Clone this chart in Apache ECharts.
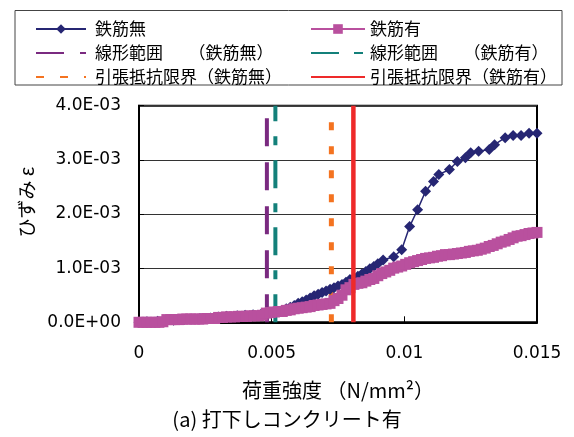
<!DOCTYPE html>
<html><head><meta charset="utf-8">
<script src="https://cdn.jsdelivr.net/npm/echarts@6/dist/echarts.min.js"></script>
<style>html,body{margin:0;padding:0;background:#fff}#c{width:574px;height:437px}</style>
</head><body><div id="c"></div>
<script>
// 荷重強度 (N/mm2) and ひずみ (×10^-3) for 鉄筋無
const loadNone = [0,0.0003,0.0007,0.001,0.0013,0.0017,0.002,0.0023,0.0027,0.003,
  0.0033,0.0037,0.004,0.0043,0.0046,0.0048,0.0051,0.0054,0.00555,0.0057,
  0.00585,0.006,0.00615,0.0063,0.00645,0.0066,0.00675,0.0069,0.00705,0.0072,
  0.00735,0.0075,0.00765,0.0078,0.00795,0.0081,0.00825,0.0084,0.00855,0.0087,
  0.00885,0.009,0.0092,0.0096,0.0099,0.0102,0.0105,0.0108,0.0111,0.0113,
  0.0117,0.012,0.0123,0.0125,0.0128,0.0132,0.0134,0.0138,0.0141,0.0144,
  0.0147,0.015];
const strainNone = [0,0.01,0.02,0.03,0.04,0.05,0.06,0.07,0.08,0.1,
  0.11,0.12,0.13,0.14,0.15,0.16,0.18,0.22,0.25,0.28,
  0.31,0.35,0.38,0.41,0.45,0.49,0.52,0.55,0.58,0.61,
  0.64,0.67,0.7,0.74,0.79,0.82,0.85,0.89,0.94,0.99,
  1.03,1.08,1.15,1.21,1.34,1.77,2.08,2.42,2.6,2.73,
  2.82,2.97,3.04,3.13,3.16,3.19,3.28,3.41,3.45,3.45,
  3.49,3.49];
// 鉄筋有
const loadWith = [0,0.00015,0.0003,0.00045,0.0006,0.00075,0.0009,0.00105,0.0012,0.00135,
  0.0015,0.00165,0.0018,0.00195,0.0021,0.00225,0.0024,0.00255,0.0027,0.00285,
  0.003,0.00315,0.0033,0.00345,0.0036,0.00375,0.0039,0.00405,0.0042,0.00435,
  0.0045,0.00465,0.0048,0.00495,0.0051,0.00525,0.0054,0.00555,0.0057,0.00585,
  0.006,0.00615,0.0063,0.00645,0.0066,0.00675,0.0069,0.00705,0.0072,0.00735,
  0.0075,0.00765,0.0078,0.00795,0.0081,0.00825,0.0084,0.00855,0.0087,0.00885,
  0.009,0.00915,0.0093,0.00945,0.0096,0.00975,0.0099,0.01005,0.0102,0.01035,
  0.0105,0.01065,0.0108,0.01095,0.0111,0.01125,0.0114,0.01155,0.0117,0.01185,
  0.012,0.01215,0.0123,0.01245,0.0126,0.01275,0.0129,0.01305,0.0132,0.01335,
  0.0135,0.01365,0.0138,0.01395,0.0141,0.01425,0.0144,0.01455,0.0147,0.01485,
  0.015];
const strainWith = [0,0,0,0,0,0,0.01,0.05,0.05,0.05,
  0.05,0.06,0.06,0.06,0.06,0.06,0.06,0.07,0.07,0.07,
  0.09,0.09,0.1,0.1,0.1,0.11,0.11,0.11,0.12,0.12,
  0.12,0.13,0.17,0.18,0.19,0.2,0.2,0.22,0.23,0.25,
  0.26,0.27,0.28,0.29,0.31,0.32,0.33,0.34,0.35,0.4,
  0.44,0.5,0.6,0.64,0.7,0.72,0.73,0.76,0.79,0.81,
  0.86,0.9,0.93,0.96,1.0,1.02,1.04,1.07,1.1,1.12,
  1.14,1.16,1.18,1.19,1.2,1.22,1.23,1.25,1.25,1.26,
  1.27,1.28,1.29,1.31,1.32,1.33,1.35,1.37,1.4,1.42,
  1.45,1.48,1.5,1.53,1.56,1.59,1.6,1.62,1.64,1.65,
  1.66];
// reference vertical lines: [load, bottom strain, top strain] (×10^-3)
const linearNone = [0.00482, 0, 3.8];
const linearWith = [0.00514, 0, 4.0];
const tensileNone = [0.00725, 0, 3.7];
const tensileWith = [0.00808, 0, 4.0];
const seriesNames = ['鉄筋無','鉄筋有','線形範囲　　（鉄筋無）','線形範囲　　（鉄筋有）','引張抵抗限界（鉄筋無）','引張抵抗限界（鉄筋有）'];
const xTicks = {min:0, max:0.015, interval:0.005};
const yTicks = {min:0, max:0.004, interval:0.001};

const E3 = 1e-3;
const zip = (a,b)=>a.map((v,i)=>[v,b[i]*E3]);
const vline = (l)=>[[l[0],l[1]*E3],[l[0],l[2]*E3]];
function sci(v){
  if (Math.abs(v) < 1e-12) return '0.0E+00';
  const s = v.toExponential(1).toUpperCase();
  const m = s.match(/^(.*)E([+-])(\d+)$/);
  return m[1] + 'E' + m[2] + (m[3].length<2?'0'+m[3]:m[3]);
}
const cjk = '"Noto Sans CJK JP", sans-serif';
const lat = '"DejaVu Sans", sans-serif';
const noSym = {color:'rgba(0,0,0,0)', borderWidth:0};

const chart = echarts.init(document.getElementById('c'), null, {renderer:'canvas'});
chart.setOption({
  animation:false,
  backgroundColor:'#fff',
  title:{text:'(a) 打下しコンクリート有', left:'center', top:404,
    textStyle:{fontFamily:cjk, fontSize:20, fontWeight:'normal', color:'#000'}},
  grid:{left:139, right:37, top:105.7, bottom:114.7, show:true, borderColor:'#000', borderWidth:2, backgroundColor:'transparent'},
  legend:[
    {orient:'vertical', left:30, top:14, itemWidth:50, itemHeight:12, itemGap:4,
     data:[{name:seriesNames[0]},{name:seriesNames[2], itemStyle:noSym},{name:seriesNames[4], itemStyle:noSym}],
     textStyle:{fontFamily:cjk, fontSize:17, lineHeight:20, color:'#000', padding:[0,0,0,4]}},
    {orient:'vertical', left:305, top:14, itemWidth:54, itemHeight:12, itemGap:4,
     data:[{name:seriesNames[1]},{name:seriesNames[3], itemStyle:noSym},{name:seriesNames[5], itemStyle:noSym}],
     textStyle:{fontFamily:cjk, fontSize:17, lineHeight:20, color:'#000'}}
  ],
  graphic:[{type:'rect', shape:{x:15, y:10.5, width:547, height:74.5}, style:{fill:'none', stroke:'#444', lineWidth:1}, silent:true}],
  xAxis:{type:'value', min:xTicks.min, max:xTicks.max, interval:xTicks.interval,
    name:'荷重強度 （N/mm²）', nameLocation:'middle', nameGap:58,
    nameTextStyle:{fontFamily:cjk, fontSize:20, color:'#000'},
    axisLine:{lineStyle:{color:'#000', width:2}},
    axisTick:{show:true, inside:true, length:6, lineStyle:{color:'#000'}},
    axisLabel:{fontFamily:lat, fontSize:17, color:'#000', margin:23},
    splitLine:{show:false}},
  yAxis:{type:'value', min:yTicks.min, max:yTicks.max, interval:yTicks.interval,
    name:'ひずみ ε', nameLocation:'middle', nameGap:103, nameRotate:90,
    nameTextStyle:{fontFamily:cjk, fontSize:19, color:'#000', padding:[0,0,0,24]},
    axisLine:{lineStyle:{color:'#000', width:2}},
    axisTick:{show:true, inside:true, length:5, lineStyle:{color:'#000'}},
    axisLabel:{fontFamily:lat, fontSize:17, color:'#000', margin:18, formatter:sci},
    splitLine:{show:true, lineStyle:{color:'#333', width:1}}},
  series:[
    {name:seriesNames[2], type:'line', data:vline(linearNone), symbol:'none', z:2,
     lineStyle:{color:'#7a2a80', width:4, type:[28,16]}, itemStyle:{color:'#7a2a80'}},
    {name:seriesNames[3], type:'line', data:vline(linearWith), symbol:'none', z:2,
     lineStyle:{color:'#13807a', width:4, type:[28,15,9,15]}, itemStyle:{color:'#13807a'}},
    {name:seriesNames[4], type:'line', data:vline(tensileNone), symbol:'none', z:2,
     lineStyle:{color:'#f47320', width:5, type:[8,16]}, itemStyle:{color:'#f47320'}},
    {name:seriesNames[0], type:'line', data:zip(loadNone,strainNone), symbol:'diamond', symbolSize:11, z:3,
     lineStyle:{color:'#262673', width:1.5}, itemStyle:{color:'#262673'}},
    {name:seriesNames[1], type:'line', data:zip(loadWith,strainWith), symbol:'rect', symbolSize:11, z:4,
     lineStyle:{color:'#b9509e', width:1.5}, itemStyle:{color:'#b9509e'}},
    {name:seriesNames[5], type:'line', data:vline(tensileWith), symbol:'none', z:5,
     lineStyle:{color:'#ee2a2a', width:4.5}, itemStyle:{color:'#ee2a2a'}}
  ]
});
</script></body></html>
